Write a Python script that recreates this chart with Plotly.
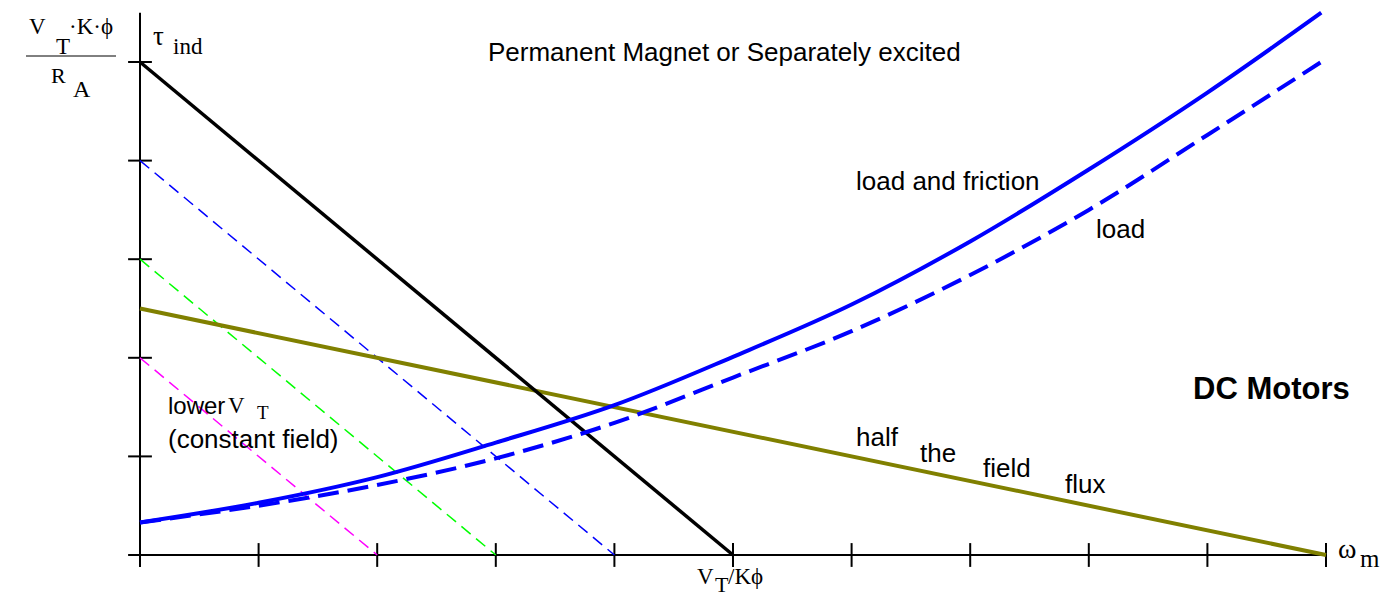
import plotly.graph_objects as go

W, H = 1396, 598

# Axis ticks (speed in tick units, torque in tick units)
speed_ticks = [0, 1, 2, 3, 4, 5, 6, 7, 8, 9, 10]
torque_ticks = [0, 1, 2, 3, 4, 5]

# Torque-speed lines of the motor (end points)
full_vt_speed, full_vt_torque = [0, 5], [5, 0]
vt_a_speed, vt_a_torque = [0, 4], [4, 0]
vt_b_speed, vt_b_torque = [0, 3], [3, 0]
vt_c_speed, vt_c_torque = [0, 2], [2, 0]
half_flux_speed, half_flux_torque = [0, 10], [2.5, 0]

# Load curves
load_speed = [0, 1, 2, 3, 4, 5, 6, 7, 8, 9, 9.96]
load_friction_torque = [0.33, 0.53, 0.79, 1.14, 1.52, 2.01, 2.54, 3.18, 3.91, 4.69, 5.5]
load_only_torque = [0.33, 0.50, 0.71, 0.98, 1.34, 1.80, 2.27, 2.84, 3.50, 4.26, 5.0]

# Pixel scale of the drawing
x0_px, y0_px = 140, 555
sx, sy = 118.6, 98.6
x_range = [-x0_px / sx, (W - x0_px) / sx]
y_range = [-(H - y0_px) / sy, y0_px / sy]

fig = go.Figure()

def line(xs, ys, color, width, dash=None, shape="linear"):
    fig.add_trace(go.Scatter(
        x=xs, y=ys, mode="lines",
        line=dict(color=color, width=width, dash=dash, shape=shape, smoothing=1.0),
        hoverinfo="skip", showlegend=False))

# axes
line([speed_ticks[0] - 9 / sx, speed_ticks[-1]], [0, 0], "black", 2)
line([0, 0], [-9 / sy, 5.5], "black", 2)
fig.add_trace(go.Scatter(
    x=speed_ticks, y=[0] * len(speed_ticks), mode="markers",
    marker=dict(symbol="line-ns", size=17, line=dict(color="black", width=2)),
    hoverinfo="skip", showlegend=False))
fig.add_trace(go.Scatter(
    x=[0] * len(torque_ticks), y=torque_ticks, mode="markers",
    marker=dict(symbol="line-ew", size=17, line=dict(color="black", width=2)),
    hoverinfo="skip", showlegend=False))

# reduced terminal voltage lines
line(vt_c_speed, vt_c_torque, "#ff00ff", 1.5, "12px,7px")
line(vt_b_speed, vt_b_torque, "#00ff00", 1.5, "12px,7px")
line(vt_a_speed, vt_a_torque, "#0000ff", 1.5, "12px,7px")
# half field flux
line(half_flux_speed, half_flux_torque, "#808000", 4)
# full terminal voltage
line(full_vt_speed, full_vt_torque, "black", 3.5)
# load curves
line(load_speed, load_only_torque, "#0000ff", 4, "21px,9px", "spline")
line(load_speed, load_friction_torque, "#0000ff", 4, None, "spline")

SERIF = "Liberation Serif, Times New Roman, serif"
SANS = "Liberation Sans, Arial, sans-serif"

annotations = []

def label(text, left, baseline, family=SANS, size=26, bold=False):
    # place text by left edge and baseline in pixel terms
    mid = baseline - 0.35 * size
    if bold:
        text = "<b>" + text + "</b>"
    annotations.append(dict(
        text=text, x=left / W, y=1 - mid / H, xref="paper", yref="paper",
        xanchor="left", yanchor="middle", showarrow=False, borderpad=0,
        font=dict(family=family, size=size, color="black")))

label("Permanent Magnet or Separately excited", 487, 61)
label("load and friction", 855, 190)
label("load", 1095, 238)
label("half", 855, 446)
label("the", 919, 462)
label("field", 982, 477)
label("flux", 1064, 493)
label("lower", 167, 414, SANS, 24)
label("V", 227, 414, SERIF, 23)
label("T", 256, 419, SERIF, 19)
label("(constant field)", 167, 448)
label("DC Motors", 1192, 399, SANS, 31, bold=True)

# torque axis title
label("V", 28, 35, SERIF, 23)
label("T", 55, 55, SERIF, 23)
label("·K·ϕ", 68, 35, SERIF, 23)
label("R", 50, 83, SERIF, 22)
label("A", 72, 97, SERIF, 24)
label("τ", 152, 45, SERIF, 27)
label("ind", 172, 55, SERIF, 23)
# speed axis labels
label("ω", 1337, 558, SERIF, 28)
label("m", 1359, 567, SERIF, 25)
label("V", 696, 585, SERIF, 23)
label("T", 714, 592, SERIF, 22)
label("/Kϕ", 727, 585, SERIF, 23)

fig.update_layout(
    width=W, height=H, autosize=False,
    margin=dict(l=0, r=0, t=0, b=0),
    paper_bgcolor="white", plot_bgcolor="white",
    xaxis=dict(range=x_range, visible=False, fixedrange=True),
    yaxis=dict(range=y_range, visible=False, fixedrange=True),
    annotations=annotations,
    shapes=[dict(type="line", xref="paper", yref="paper",
                 x0=26 / W, x1=116 / W, y0=1 - 56 / H, y1=1 - 56 / H,
                 line=dict(color="black", width=1))],
)

fig.write_html("out.html")
